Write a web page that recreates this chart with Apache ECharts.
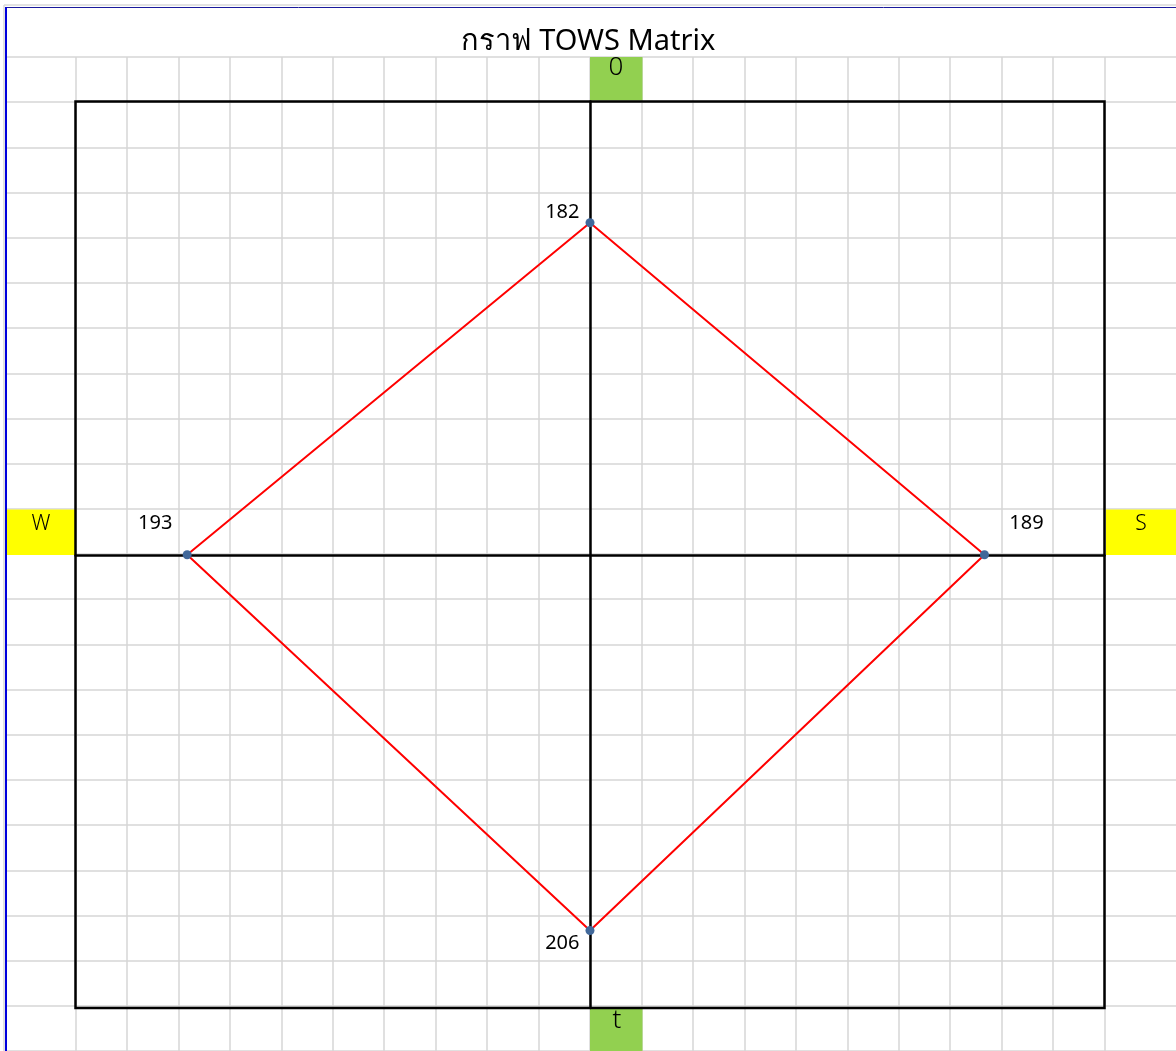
<!DOCTYPE html>
<html>
<head>
<meta charset="utf-8">
<script src="https://cdn.jsdelivr.net/npm/echarts@6/dist/echarts.min.js"></script>
<style>
html,body{margin:0;padding:0;background:#fff;}
#chart{width:1176px;height:1051px;}
</style>
</head>
<body>
<div id="chart"></div>
<script>
// ---- data ----
const titleText = 'กราฟ TOWS Matrix';
const directions = ['0', 'S', 't', 'W'];          // top, right, bottom, left
const values = [182, 189, 206, 193];
// sign of each point on (x, y): top (+y), right (+x), bottom (-y), left (-x)
const dirX = [0, 1, 0, -1];
const dirY = [1, 0, -1, 0];
const xMax = 246.5;
const yMax = 248.5;

const FONT = '"Noto Sans", "DejaVu Sans", sans-serif';
const GRID_COLOR = '#d6d6d6';

const pts = values.map((v, i) => [dirX[i] * v, dirY[i] * v]);
const labelCfg = [
  {position: 'left', offset: [-1, -10]},
  {position: 'top', offset: [42, -12]},
  {position: 'left', offset: [-1, 13]},
  {position: 'top', offset: [-32, -12]}
];
const lineData = pts.map((p, i) => ({
  value: p,
  label: Object.assign({show: true, formatter: String(values[i])}, labelCfg[i])
}));
lineData.push({value: pts[0], symbolSize: 0, label: {show: false}});

const chart = echarts.init(document.getElementById('chart'), null, {renderer: 'canvas'});
chart.setOption({
  animation: false,
  backgroundColor: '#fff',
  title: {
    text: titleText, left: 'center', top: 22,
    textStyle: {fontFamily: FONT, fontSize: 29, fontWeight: 'normal', color: '#000'}
  },
  grid: [
    {left: 6, right: 0, top: 57, height: 45.325 * 22, show: false},   // sheet rows
    {left: 75.5, width: 1029, top: 57, height: 994, show: false},    // sheet columns
    {left: 75.5, width: 1029, top: 101.5, height: 906.5, show: true, z: 4,
     borderColor: '#000', borderWidth: 2.5, backgroundColor: 'transparent'}
  ],
  xAxis: [
    {gridIndex: 0, type: 'value', min: 0, max: 1, show: false},
    {gridIndex: 1, type: 'value', min: 0, max: 20, interval: 1,
     axisLine: {show: false}, axisTick: {show: false}, axisLabel: {show: false},
     splitLine: {show: true, lineStyle: {color: GRID_COLOR, width: 1.5}}},
    {gridIndex: 2, type: 'value', min: -xMax, max: xMax, z: 4,
     axisLine: {show: true, onZero: true, lineStyle: {color: '#000', width: 2.5}},
     axisTick: {show: false}, axisLabel: {show: false}, splitLine: {show: false}}
  ],
  yAxis: [
    {gridIndex: 0, type: 'value', min: 0, max: 22, interval: 1, inverse: true,
     axisLine: {show: false}, axisTick: {show: false}, axisLabel: {show: false},
     splitLine: {show: true, lineStyle: {color: GRID_COLOR, width: 1.5}}},
    {gridIndex: 1, type: 'value', min: 0, max: 1, show: false},
    {gridIndex: 2, type: 'value', min: -yMax, max: yMax, z: 4,
     axisLine: {show: true, onZero: true, lineStyle: {color: '#000', width: 2.5}},
     axisTick: {show: false}, axisLabel: {show: false}, splitLine: {show: false}}
  ],
  graphic: [
    {type: 'rect', z: 3, shape: {x: 590, y: 57, width: 52.5, height: 43.5}, style: {fill: '#92d050'}},
    {type: 'rect', z: 3, shape: {x: 590, y: 1009, width: 52.5, height: 42}, style: {fill: '#92d050'}},
    {type: 'rect', z: 3, shape: {x: 6.5, y: 509.5, width: 68.5, height: 45.5}, style: {fill: '#ffff00'}},
    {type: 'rect', z: 3, shape: {x: 1106, y: 509.5, width: 70, height: 45.5}, style: {fill: '#ffff00'}},
    {type: 'text', z: 6, x: 616, y: 68, style: {text: directions[0], font: '300 26px ' + FONT, fill: '#000', align: 'center', verticalAlign: 'middle'}},
    {type: 'text', z: 6, x: 1141, y: 524, style: {text: directions[1], font: '300 21px ' + FONT, fill: '#000', align: 'center', verticalAlign: 'middle'}},
    {type: 'text', z: 6, x: 617, y: 1021, style: {text: directions[2], font: '300 26px ' + FONT, fill: '#000', align: 'center', verticalAlign: 'middle'}},
    {type: 'text', z: 6, x: 41, y: 524, style: {text: directions[3], font: '300 21px ' + FONT, fill: '#000', align: 'center', verticalAlign: 'middle'}},
    {type: 'line', z: 7, shape: {x1: 4, y1: 5, x2: 1176, y2: 5}, style: {stroke: '#d9d9d9', lineWidth: 1.5}},
    {type: 'line', z: 7, shape: {x1: 4, y1: 5, x2: 4, y2: 1051}, style: {stroke: '#d9d9d9', lineWidth: 1.5}},
    {type: 'line', z: 8, shape: {x1: 6, y1: 7.5, x2: 1176, y2: 7.5}, style: {stroke: '#1a1a9c', lineWidth: 1}},
    {type: 'line', z: 8, shape: {x1: 6, y1: 7, x2: 6, y2: 1051}, style: {stroke: '#0000dd', lineWidth: 2}}
  ],
  series: [
    {
      type: 'line', xAxisIndex: 2, yAxisIndex: 2, z: 5,
      data: lineData,
      symbol: 'circle', symbolSize: 9,
      itemStyle: {color: '#41689a'},
      lineStyle: {color: '#ff0000', width: 2},
      label: {fontFamily: FONT, fontSize: 20, color: '#000'}
    }
  ]
});
</script>
</body>
</html>
